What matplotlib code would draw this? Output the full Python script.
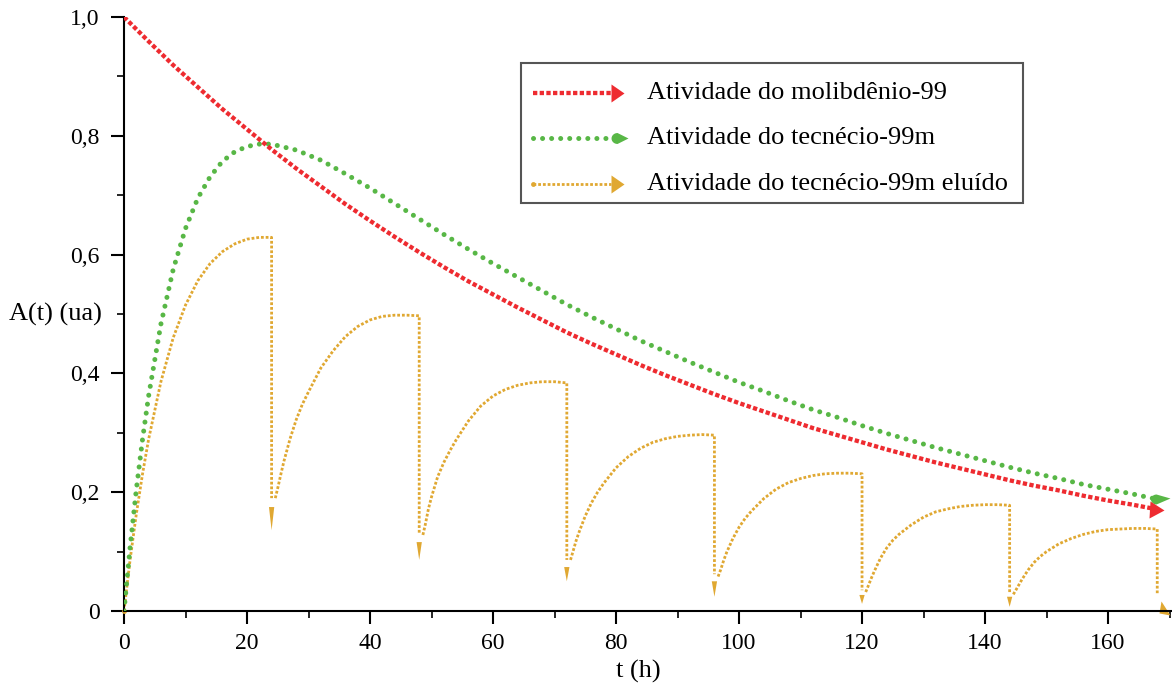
import numpy as np
import matplotlib
matplotlib.use('Agg')
import matplotlib.pyplot as plt
from matplotlib.path import Path
from matplotlib.patches import Rectangle
from matplotlib.ticker import MultipleLocator, FixedLocator

plt.rcParams['font.family'] = ['Liberation Serif', 'DejaVu Serif']

RED = '#EE2B30'
GREEN = '#58B746'
GOLD = '#E0A832'

# atividade do Mo-99, lida a cada 4 h
t_mo = np.arange(0, 169, 4)
a_mo = [1.000, 0.959, 0.919, 0.882, 0.845, 0.811, 0.777, 0.745, 0.715, 0.685,
        0.657, 0.630, 0.604, 0.579, 0.555, 0.533, 0.511, 0.490, 0.469, 0.450,
        0.432, 0.414, 0.397, 0.381, 0.365, 0.350, 0.336, 0.322, 0.308, 0.296,
        0.284, 0.272, 0.261, 0.250, 0.240, 0.230, 0.220, 0.211, 0.203, 0.194,
        0.186, 0.179, 0.171]

# atividade do Tc-99m (gerador sem eluição)
t_tc = [0, 1, 2, 3, 4, 6, 8, 10, 12, 14, 16, 18, 20, 22] + list(range(24, 169, 4))
a_tc = [0.000, 0.108, 0.204, 0.288, 0.362, 0.483, 0.575, 0.644, 0.695, 0.731,
        0.757, 0.773, 0.782, 0.786, 0.786, 0.776, 0.759, 0.736, 0.712, 0.686,
        0.660, 0.634, 0.609, 0.585, 0.562, 0.539, 0.516, 0.495, 0.475, 0.455,
        0.437, 0.419, 0.402, 0.385, 0.370, 0.354, 0.339, 0.326, 0.312, 0.299,
        0.287, 0.275, 0.264, 0.253, 0.242, 0.232, 0.223, 0.213, 0.205, 0.197,
        0.188]

# Tc-99m eluído a cada 24 h
elution_t = [24, 48, 72, 96, 120, 144, 168]
t_cycle1 = [0, 1, 2, 3, 4, 6, 8, 10, 12, 14, 16, 18, 20, 22, 24]
a_cycle1 = [0.000, 0.087, 0.163, 0.230, 0.289, 0.386, 0.460, 0.515, 0.556,
            0.585, 0.605, 0.618, 0.626, 0.629, 0.629]
s_cycle = [0.6, 1, 1.5, 2, 3, 4, 5, 6, 8, 10, 12, 14, 16, 18, 20, 22, 24]
a_cycles = [
    [0.190, 0.207, 0.230, 0.252, 0.290, 0.322, 0.348, 0.369, 0.409, 0.438, 0.462, 0.479, 0.490, 0.496, 0.498, 0.498, 0.497],
    [0.128, 0.146, 0.172, 0.192, 0.226, 0.250, 0.270, 0.288, 0.320, 0.345, 0.362, 0.373, 0.380, 0.384, 0.386, 0.386, 0.384],
    [0.086, 0.100, 0.118, 0.133, 0.160, 0.182, 0.200, 0.215, 0.241, 0.260, 0.274, 0.284, 0.290, 0.294, 0.296, 0.297, 0.296],
    [0.058, 0.069, 0.085, 0.099, 0.122, 0.141, 0.156, 0.168, 0.189, 0.205, 0.216, 0.223, 0.228, 0.231, 0.232, 0.232, 0.231],
    [0.032, 0.042, 0.055, 0.067, 0.089, 0.106, 0.119, 0.129, 0.145, 0.158, 0.167, 0.172, 0.176, 0.178, 0.179, 0.179, 0.178],
    [0.028, 0.035, 0.044, 0.053, 0.069, 0.082, 0.092, 0.100, 0.113, 0.122, 0.129, 0.134, 0.137, 0.138, 0.139, 0.139, 0.138],
]
drop_end = [0.190, 0.131, 0.086, 0.062, 0.035, 0.030, 0.030]
arrow_top = [0.175, 0.116, 0.074, 0.050, 0.027, 0.024]
arrow_tip = [0.136, 0.086, 0.050, 0.024, 0.012, 0.007]

labels = ['Atividade do molibdênio-99',
          'Atividade do tecnécio-99m',
          'Atividade do tecnécio-99m eluído']


def px_marker(verts):
    # vertices em pixels (y para cima), origem no ponto de dados
    verts = np.asarray(list(verts) + [verts[0]], float)
    codes = [Path.MOVETO] + [Path.LINETO] * (len(verts) - 2) + [Path.CLOSEPOLY]
    size = 2 * np.abs(verts).max() * 72.0 / 100
    return Path(verts, codes), size


tri_right = px_marker([(0, 9), (13, 0), (0, -9)])
ang = np.radians(np.linspace(90, 270, 12))
leaf = px_marker([(6 + 6 * np.cos(a), 5.5 * np.sin(a)) for a in ang] + [(17, 0)])
end_red = px_marker([(-7, 8), (7, -1), (-8, -9)])
end_green = px_marker([(-1 + 5.5 * np.cos(a), 5 * np.sin(a)) for a in ang] + [(13, 1)])
end_gold = px_marker([(4, -8), (13, -22), (2, -20)])

fig = plt.figure(figsize=(11.72, 6.91), dpi=100)
ax = fig.add_axes([124 / 1172, 80 / 691, 1048 / 1172, 594 / 691])

lw_r, lw_g, lw_y = 3.1, 3.6, 2.0
dash_r, dash_g, dash_y = (1, 0.55), (0.01, 1.8), (1, 0.7)

# eluído
ax.plot(t_cycle1 + [elution_t[0]], a_cycle1 + [drop_end[0]], color=GOLD, lw=lw_y,
        dashes=dash_y, zorder=2)
for i, vals in enumerate(a_cycles):
    t0 = elution_t[i]
    tt = [t0 + s for s in s_cycle] + [elution_t[i + 1]]
    ax.plot(tt, vals + [drop_end[i + 1]], color=GOLD, lw=lw_y, dashes=dash_y, zorder=2)
for t, top, tip in zip(elution_t[:-1], arrow_top, arrow_tip):
    ax.annotate('', xy=(t, tip), xytext=(t, top),
                arrowprops=dict(arrowstyle='wedge,tail_width=0.38', color=GOLD,
                                lw=0, shrinkA=0, shrinkB=0, mutation_scale=10),
                zorder=2)
ax.plot(elution_t[-1], drop_end[-1], marker=end_gold[0], ms=end_gold[1], color=GOLD,
        mew=0, ls='none', zorder=2, clip_on=False)
ax.plot(0, 0, marker='o', ms=3.5, color=GOLD, mew=0, zorder=2, clip_on=False)

# Tc-99m
ax.plot(t_tc, a_tc, color=GREEN, lw=lw_g, dashes=dash_g, dash_capstyle='round',
        zorder=3)
ax.plot(t_tc[-1], a_tc[-1], marker=end_green[0], ms=end_green[1], color=GREEN, mew=0,
        ls='none', zorder=3, clip_on=False)

# Mo-99
ax.plot(t_mo, a_mo, color=RED, lw=lw_r, dashes=dash_r, zorder=4)
ax.plot(t_mo[-1], a_mo[-1], marker=end_red[0], ms=end_red[1], color=RED, mew=0,
        ls='none', zorder=4, clip_on=False)

ax.set_xlim(0, 170.4)
ax.set_ylim(0, 1.0)
ax.spines['top'].set_visible(False)
ax.spines['right'].set_visible(False)
for sp in ('left', 'bottom'):
    ax.spines[sp].set_linewidth(1.5)

ax.xaxis.set_major_locator(MultipleLocator(20))
ax.xaxis.set_minor_locator(MultipleLocator(10))
ax.yaxis.set_major_locator(FixedLocator([0, 0.2, 0.4, 0.6, 0.8, 1.0]))
ax.yaxis.set_minor_locator(FixedLocator([0.1, 0.3, 0.5, 0.7, 0.9]))
ax.set_yticklabels(['0', '0,2', '0,4', '0,6', '0,8', '1,0'])
ax.tick_params(which='major', length=9.5, width=1.5, labelsize=17, direction='out')
ax.tick_params(which='minor', length=5, width=1.2, direction='out')
ax.tick_params(axis='x', which='major', pad=6)
ax.tick_params(axis='y', which='major', pad=8)

ax.set_xlabel('t (h)', fontsize=19)
ax.xaxis.set_label_coords((638 - 124) / 1048, -0.083)
ax.annotate('A(t) (ua)', xy=(0, 0.5), xycoords=('axes fraction', 'data'),
            xytext=(-16, 0), textcoords='offset points', ha='right', va='center',
            fontsize=19)

# legenda desenhada à mão
lx0, lx1 = (521 - 124) / 1048, (1023 - 124) / 1048
ly0, ly1 = (611 - 203) / 594, (611 - 63) / 594
ax.add_patch(Rectangle((lx0, ly0), lx1 - lx0, ly1 - ly0, transform=ax.transAxes,
                       fill=False, ec='#555555', lw=1.5, clip_on=False, zorder=5))
rows = [(611 - 93) / 594, (611 - 138) / 594, (611 - 184) / 594]
hx0, hx1 = (533 - 124) / 1048, (611 - 124) / 1048
tx = (647 - 124) / 1048
styles = [
    dict(color=RED, lw=lw_r, dashes=dash_r),
    dict(color=GREEN, lw=lw_g, dashes=dash_g, dash_capstyle='round'),
    dict(color=GOLD, lw=lw_y, dashes=dash_y),
]
heads = [tri_right, leaf, tri_right]
colors = [RED, GREEN, GOLD]
for y, lab, st, hd, c in zip(rows, labels, styles, heads, colors):
    ax.plot([hx0, hx1], [y, y], transform=ax.transAxes, clip_on=False, zorder=6, **st)
    ax.plot(hx1, y, marker=hd[0], ms=hd[1], color=c, mew=0, ls='none',
            transform=ax.transAxes, clip_on=False, zorder=6)
    ax.text(tx, y, lab, transform=ax.transAxes, fontsize=19, va='center', ha='left',
            zorder=6)
ax.plot(hx0, rows[2], marker='o', ms=3.5, color=GOLD, mew=0, transform=ax.transAxes,
        clip_on=False, zorder=6)

fig.savefig('out.png', dpi=100)
